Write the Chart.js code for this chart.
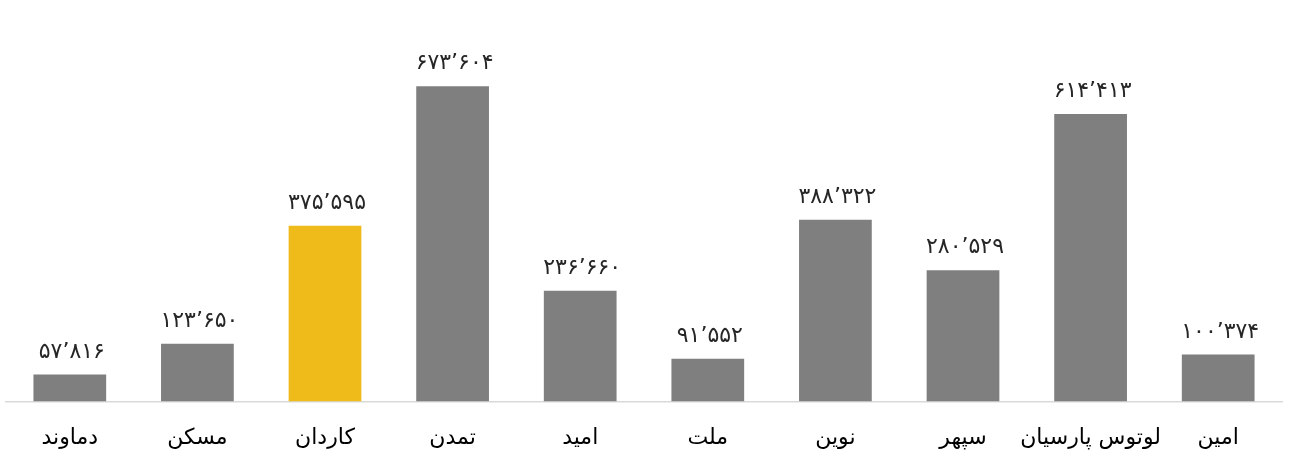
<!DOCTYPE html>
<html>
<head>
<meta charset="utf-8">
<script src="https://cdn.jsdelivr.net/npm/chart.js@4"></script>
<style>
  html, body { margin: 0; padding: 0; background: #fff; }
  #wrap { width: 1292px; height: 469px; position: relative; }
</style>
</head>
<body>
<div id="wrap"><canvas id="bankChart" width="1292" height="469"></canvas></div>
<script>
// categories and values
const banks = ["دماوند", "مسکن", "کاردان", "تمدن", "امید", "ملت", "نوین", "سپهر", "لوتوس پارسیان", "امین"];
const amounts = [57816, 123650, 375595, 673604, 236660, 91552, 388322, 280529, 614413, 100374];
const highlightBank = "کاردان";

const gray = "#7f7f7f";
const yellow = "#efbb1b";

// 57816 -> ۵۷’۸۱۶
function toPersian(n) {
  const fa = "۰۱۲۳۴۵۶۷۸۹";
  const s = n.toString().replace(/\B(?=(\d{3})+(?!\d))/g, "’");
  return s.replace(/\d/g, d => fa[d]);
}

const valueLabels = {
  id: "valueLabels",
  afterDatasetsDraw(chart) {
    const ctx = chart.ctx;
    const meta = chart.getDatasetMeta(0);
    ctx.save();
    ctx.font = "22px 'DejaVu Sans'";
    ctx.letterSpacing = "4px";
    ctx.fillStyle = "#262626";
    ctx.textAlign = "center";
    ctx.textBaseline = "alphabetic";
    ctx.direction = "ltr";
    meta.data.forEach((bar, i) => {
      ctx.fillText(toPersian(amounts[i]), bar.x + 2, bar.y - 17);
    });
    ctx.restore();
  }
};

const ctx = document.getElementById("bankChart").getContext("2d");
new Chart(ctx, {
  type: "bar",
  data: {
    labels: banks,
    datasets: [{
      data: amounts,
      backgroundColor: banks.map(b => b === highlightBank ? yellow : gray),
      categoryPercentage: 1,
      barPercentage: 0.57
    }]
  },
  options: {
    responsive: false,
    animation: false,
    layout: { padding: { top: 27, left: 6, right: 10, bottom: 3 } },
    plugins: {
      legend: { display: false },
      tooltip: { enabled: false }
    },
    scales: {
      x: {
        grid: { display: false },
        border: { display: true, color: "#d9d9d9", width: 1.5 },
        ticks: {
          color: "#000",
          padding: 15,
          autoSkip: false,
          font: { family: "'DejaVu Sans'", size: 22 },
          maxRotation: 0
        }
      },
      y: {
        display: false,
        min: 0,
        max: 800000
      }
    }
  },
  plugins: [valueLabels]
});
</script>
</body>
</html>
